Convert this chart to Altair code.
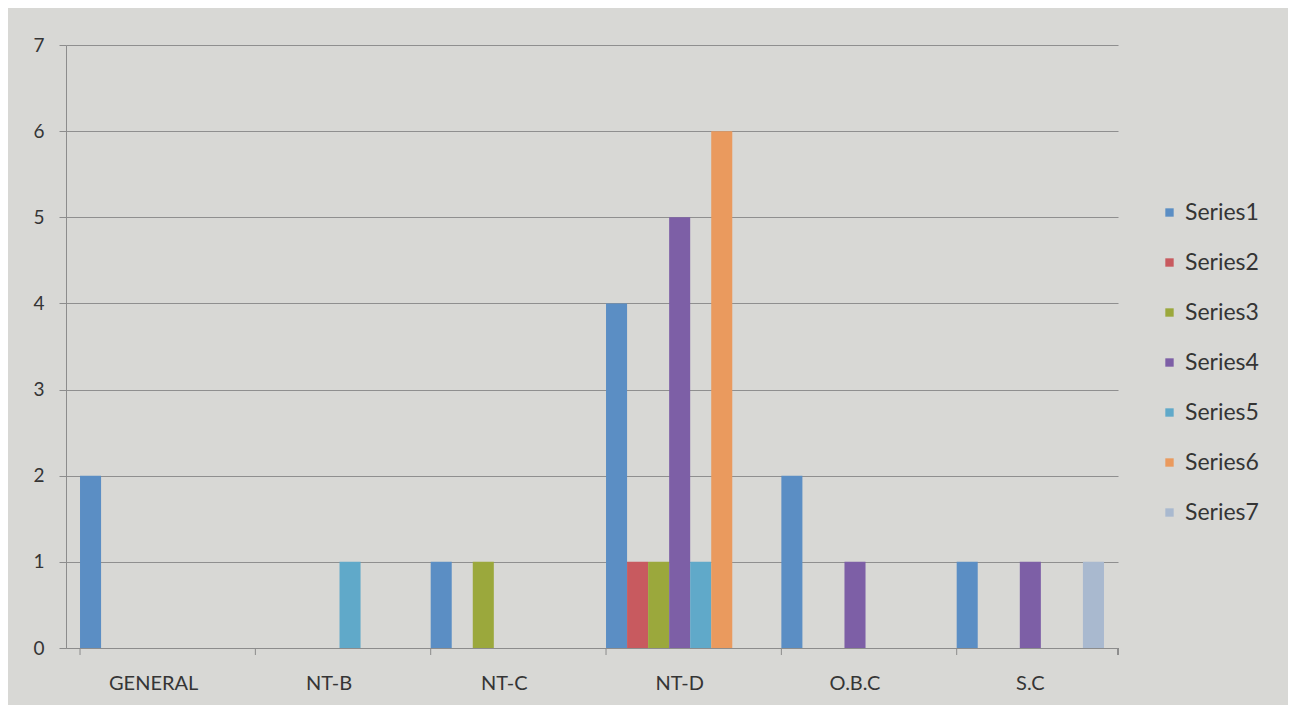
import altair as alt
import pandas as pd

categories = ["GENERAL", "NT-B", "NT-C", "NT-D", "O.B.C", "S.C"]
series = ["Series1", "Series2", "Series3", "Series4", "Series5", "Series6", "Series7"]
# values per series, one per category (0 = no bar)
series1 = [2, 0, 1, 4, 2, 1]
series2 = [0, 0, 0, 1, 0, 0]
series3 = [0, 0, 1, 1, 0, 0]
series4 = [0, 0, 0, 5, 1, 1]
series5 = [0, 1, 0, 1, 0, 0]
series6 = [0, 0, 0, 6, 0, 0]
series7 = [0, 0, 0, 0, 0, 1]
colors = ["#5b8ec4", "#c85a5f", "#9ba83c", "#7d5fa6", "#60a9c9", "#ea9a5e", "#a9b9cf"]

rows = []
for s, vals in zip(series, [series1, series2, series3, series4, series5, series6, series7]):
    for c, v in zip(categories, vals):
        if v:
            rows.append({"category": c, "series": s, "value": v})
df = pd.DataFrame(rows)
cat_df = pd.DataFrame({"category": categories})

FONT = "Lato"
TEXT = "#353535"

xscale = alt.Scale(domain=categories, paddingInner=0.16, paddingOuter=0.08)

bars = alt.Chart(df).mark_bar().encode(
    x=alt.X("category:N", scale=xscale, sort=categories,
            axis=alt.Axis(title=None, labelAngle=0, tickSize=0, labelPadding=25,
                          labelFontSize=20, labelColor=TEXT, labelFont=FONT,
                          domainColor="#8c8c8c", grid=False)),
    xOffset=alt.XOffset("series:N", scale=alt.Scale(domain=series, paddingInner=0, paddingOuter=0)),
    y=alt.Y("value:Q", scale=alt.Scale(domain=[0, 7], nice=False),
            axis=alt.Axis(title=None, values=list(range(8)), tickSize=7, tickColor="#8c8c8c",
                          labelPadding=15, labelFontSize=19, labelColor=TEXT, labelFont=FONT,
                          gridColor="#8f8f8f", gridWidth=1, domainColor="#8c8c8c")),
    color=alt.Color("series:N", scale=alt.Scale(domain=series, range=colors),
                    legend=alt.Legend(title=None, orient="none", legendX=1092, legendY=156,
                                      symbolType="square", symbolSize=70, symbolStrokeWidth=0,
                                      labelFontSize=23, labelColor=TEXT, labelFont=FONT,
                                      rowPadding=26, labelOffset=4)),
)

ticks = alt.Chart(cat_df).mark_rule(color="#8c8c8c").encode(
    x=alt.X("category:N", scale=xscale, sort=categories, bandPosition=0),
    y=alt.value(603),
    y2=alt.value(610),
)
end_tick = alt.Chart(cat_df).mark_rule(color="#8c8c8c").encode(
    x=alt.value(1052), y=alt.value(603), y2=alt.value(610)
)

chart = alt.layer(bars, ticks, end_tick).properties(
    width=1052, height=603,
    autosize=alt.AutoSizeParams(type="none"),
    padding={"left": 58, "top": 37, "right": 170, "bottom": 57},
    background="#d8d8d5",
).configure_view(stroke=None)

chart.save("out.html", embed_options={"renderer": "svg", "actions": False})
